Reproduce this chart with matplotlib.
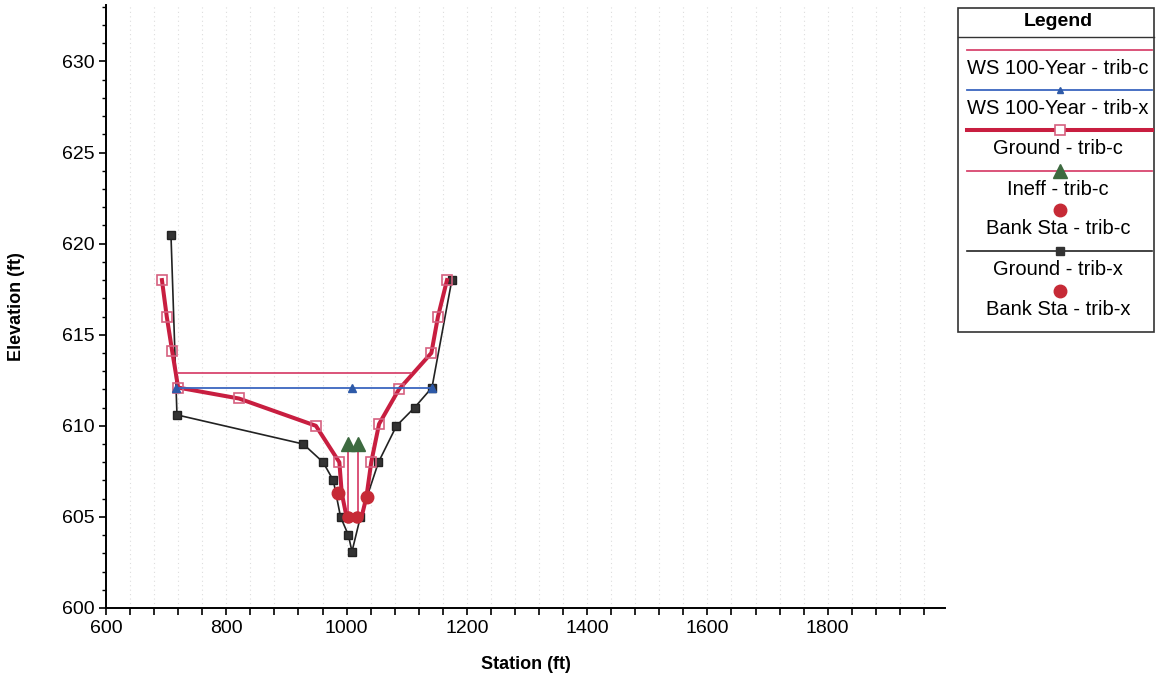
import matplotlib
matplotlib.use("Agg")
import matplotlib.pyplot as plt
import matplotlib.ticker as ticker
from matplotlib.patches import Rectangle

plt.rcParams['font.family'] = ['Liberation Sans', 'DejaVu Sans']

# ground profile, trib-c
ground_c_sta = [693, 701, 710, 720, 821, 949, 988, 992, 1000, 1025, 1033, 1041, 1054, 1087, 1141, 1152, 1167]
ground_c_elev = [618.0, 616.0, 614.1, 612.1, 611.5, 610.0, 608.0, 606.3, 605.0, 605.0, 606.1, 608.0, 610.1, 612.0, 614.0, 616.0, 618.0]
# which points carry a square marker
ground_c_marked = [0, 1, 2, 3, 4, 5, 6, 11, 12, 13, 14, 15, 16]

# ground profile, trib-x
ground_x_sta = [708, 718, 928, 961, 978, 990, 1003, 1009, 1023, 1053, 1083, 1113, 1142, 1175]
ground_x_elev = [620.5, 610.6, 609.0, 608.0, 607.0, 605.0, 604.0, 603.1, 605.0, 608.0, 610.0, 611.0, 612.1, 618.0]

# water surfaces
ws_c_sta = [720, 1107]
ws_c_elev = [612.9, 612.9]
ws_x_sta = [716, 1009, 1142]
ws_x_elev = [612.1, 612.1, 612.1]

# ineffective flow areas, trib-c
ineff_sta = [1003, 1019]
ineff_top = [609.0, 609.0]
ineff_base = [605.0, 605.0]

# bank stations
bank_c_sta = [985, 1034]
bank_c_elev = [606.3, 606.1]
bank_x_sta = [1003, 1018]
bank_x_elev = [605.0, 605.0]

PINK = '#d8456e'
CRIMSON = '#c81e40'
BLUE = '#3a66bf'
BLACK = '#222222'
GREEN = '#3d6a40'
RED = '#c62a36'

fig = plt.figure(figsize=(11.56, 6.84), dpi=100)
ax = fig.add_axes([106/1156, 76/684, 839/1156, 603/684])

ax.plot(ground_x_sta, ground_x_elev, '-', color=BLACK, lw=1.2, marker='s', ms=6, mfc='#333333', mec=BLACK, zorder=3)
ax.plot(ground_c_sta, ground_c_elev, '-', color=CRIMSON, lw=2.9, zorder=4)
ax.plot([ground_c_sta[i] for i in ground_c_marked], [ground_c_elev[i] for i in ground_c_marked],
        's', ms=7.5, mfc='none', mec='#d5607f', mew=1.2, zorder=5)
ax.plot(ws_c_sta, ws_c_elev, '-', color=PINK, lw=1.3, zorder=5)
ax.plot(ws_x_sta, ws_x_elev, '-', color=BLUE, lw=1.3, marker='^', ms=5.5, mfc='#2e5aa8', mec='#2e5aa8', zorder=6)
for s, t, b in zip(ineff_sta, ineff_top, ineff_base):
    ax.plot([s, s], [b, t], '-', color=PINK, lw=1.3, zorder=5)
ax.plot(ineff_sta, ineff_top, '^', ms=10, color=GREEN, zorder=7)
ax.plot(bank_c_sta, bank_c_elev, 'o', ms=9, color=RED, zorder=7)
ax.plot(bank_x_sta, bank_x_elev, 'o', ms=8, color=RED, zorder=7)

ax.set_xlim(600, 1995)
ax.set_ylim(600, 633.1)
ax.xaxis.set_major_locator(ticker.MultipleLocator(200))
ax.xaxis.set_minor_locator(ticker.MultipleLocator(40))
ax.yaxis.set_major_locator(ticker.MultipleLocator(5))
ax.yaxis.set_minor_locator(ticker.MultipleLocator(1))
ax.set_xticks([600, 800, 1000, 1200, 1400, 1600, 1800])
ax.tick_params(axis='both', which='major', labelsize=14, direction='out', length=5, width=1.2)
ax.tick_params(axis='x', which='minor', direction='out', length=5, width=1.2)
ax.tick_params(axis='y', which='minor', direction='out', length=3, width=1)
ax.grid(True, axis='x', which='both', color='#dddddd', linestyle=(0, (1, 3)), lw=0.8)
for side in ['top', 'right']:
    ax.spines[side].set_visible(False)
for side in ['left', 'bottom']:
    ax.spines[side].set_linewidth(1.4)

ax.set_xlabel('Station (ft)', fontsize=13, fontweight='bold', labelpad=14)
ax.set_ylabel('Elevation (ft)', fontsize=13, fontweight='bold', labelpad=26)

# legend box drawn in its own axes (pixel coordinates)
lg = fig.add_axes([957/1156, (684-333)/684, 199/1156, 325/684])
lg.set_xlim(957, 1156)
lg.set_ylim(333, 8)
lg.axis('off')
lg.add_patch(Rectangle((957.5, 8), 196, 324.5, fill=False, ec='#333333', lw=1.2, clip_on=False))
lg.plot([957.5, 1153.5], [37, 37], color='#333333', lw=1.0)
lg.text(1058, 22, 'Legend', ha='center', va='center', fontsize=14, fontweight='bold')

cx = 1060
items = [
    ('WS 100-Year - trib-c', 50, dict(color=PINK, lw=1.3), None),
    ('WS 100-Year - trib-x', 90, dict(color=BLUE, lw=1.3), dict(marker='^', ms=5, color='#2e5aa8')),
    ('Ground - trib-c', 130, dict(color=CRIMSON, lw=2.9), dict(marker='s', ms=7, mfc='white', mec='#d5607f', mew=1.2)),
    ('Ineff - trib-c', 171, dict(color=PINK, lw=1.3), dict(marker='^', ms=10, color=GREEN)),
    ('Bank Sta - trib-c', 210, None, dict(marker='o', ms=9, color=RED)),
    ('Ground - trib-x', 251, dict(color=BLACK, lw=1.2), dict(marker='s', ms=5.5, color='#333333')),
    ('Bank Sta - trib-x', 291, None, dict(marker='o', ms=9, color=RED)),
]
for label, y, line, mark in items:
    if line is not None:
        lg.plot([967, 1152], [y, y], '-', **line)
    if mark is not None:
        lg.plot([cx], [y], linestyle='none', **mark)
    lg.text(cx - 2, y + 19, label, ha='center', va='center', fontsize=14.5)

fig.savefig('out.png', dpi=100)
